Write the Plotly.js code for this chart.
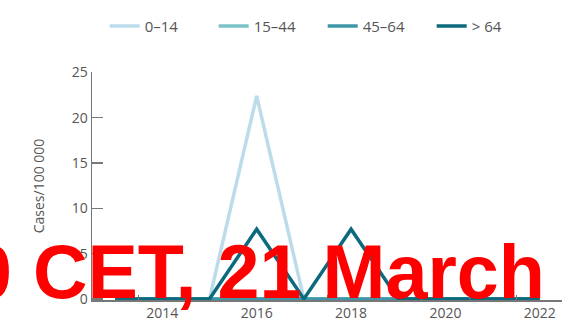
<!DOCTYPE html>
<html>
<head>
<meta charset="utf-8">
<script src="https://cdn.plot.ly/plotly-3.0.1.min.js"></script>
<style>html,body{margin:0;padding:0;background:#fff;}#chart{width:562px;height:322px;}</style>
</head>
<body>
<div id="chart"></div>
<script>
const years = [2013, 2014, 2015, 2016, 2017, 2018, 2019, 2020, 2021, 2022];
const seriesNames = ["0–14", "15–44", "45–64", "> 64"];
const age0_14 = [0, 0, 0, 22.4, 0, 0, 0, 0, 0, 0];
const age15_44 = [0, 0, 0, 0, 0, 0, 0, 0, 0, 0];
const age45_64 = [0, 0, 0, 0, 0, 0, 0, 0, 0, 0];
const age65plus = [0, 0, 0, 7.7, 0, 7.7, 0, 0, 0, 0];
const colors = ["#bcdcec", "#7cc3c9", "#3e97a8", "#0b6a7d"];
const xTickVals = [2014, 2016, 2018, 2020, 2022];
const xTickText = ["2014", "2016", "2018", "2020", "2022"];
const yTickVals = [0, 5, 10, 15, 20, 25];
const overlayText = "0 CET, 21 March";

const allSeries = [age0_14, age15_44, age45_64, age65plus];
const traces = allSeries.map((vals, i) => ({
  type: "scatter",
  mode: "lines",
  x: years,
  y: vals,
  name: seriesNames[i],
  line: {color: colors[i], width: 3.5},
  hoverinfo: "skip"
}));

const fontFam = "Open Sans, Lato, sans-serif";
const layout = {
  width: 562,
  height: 322,
  margin: {l: 92, r: 0, t: 72, b: 22},
  paper_bgcolor: "#fff",
  plot_bgcolor: "#fff",
  font: {family: fontFam, size: 14, color: "#555"},
  showlegend: true,
  legend: {
    orientation: "h",
    xref: "paper",
    yref: "container",
    x: 0.027,
    y: 0.97,
    xanchor: "left",
    yanchor: "top",
    entrywidth: 64,
    entrywidthmode: "pixels",
    itemwidth: 30,
    font: {family: fontFam, size: 15, color: "#555"},
    traceorder: "normal",
    bgcolor: "rgba(0,0,0,0)"
  },
  xaxis: {
    range: [2012.51, 2022.47],
    showgrid: false,
    zeroline: false,
    showline: true,
    linecolor: "#777",
    linewidth: 1.5,
    tickmode: "array",
    tickvals: xTickVals,
    ticktext: xTickText,
    ticks: "",
    tickfont: {family: fontFam, size: 14, color: "#555"},
    minor: {tick0: 2012.5, dtick: 1, ticks: "inside", ticklen: 5, tickcolor: "#777", tickwidth: 1, showgrid: false}
  },
  yaxis: {
    range: [-0.12, 25.05],
    showgrid: false,
    zeroline: false,
    showline: true,
    linecolor: "#777",
    linewidth: 1.5,
    tickmode: "array",
    tickvals: yTickVals,
    ticks: "inside",
    ticklen: 11,
    tickcolor: "#777",
    tickwidth: 1.5,
    tickfont: {family: fontFam, size: 14, color: "#555"},
    title: {text: "Cases/100 000", font: {family: fontFam, size: 14, color: "#555"}, standoff: 24}
  },
  annotations: [{
    text: overlayText,
    xref: "paper",
    yref: "paper",
    x: 0.968,
    y: 0.124,
    xanchor: "right",
    yanchor: "middle",
    showarrow: false,
    font: {family: "Liberation Sans, Arial, sans-serif", size: 75.5, color: "#ff0000", weight: "bold"}
  }]
};

Plotly.newPlot("chart", traces, layout, {displayModeBar: false, staticPlot: true});
</script>
</body>
</html>
